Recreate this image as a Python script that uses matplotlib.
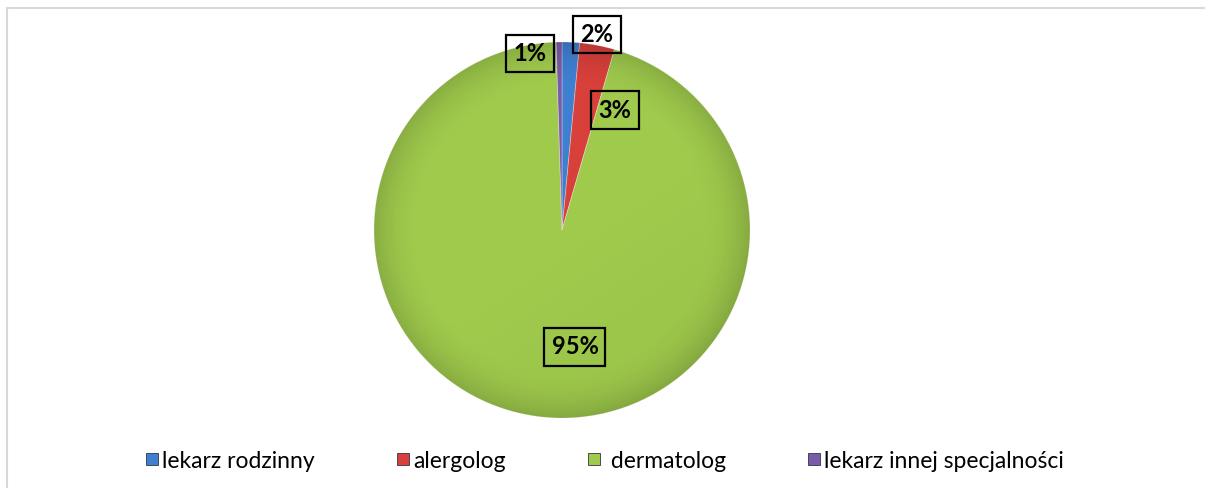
import math
import numpy as np
import matplotlib
matplotlib.use("Agg")
import matplotlib.pyplot as plt
from matplotlib.patches import Rectangle, Circle

# ---- data ----
categories = ["lekarz rodzinny", "alergolog", " dermatolog", "lekarz innej specjalności"]
values = [1.5, 3.0, 95.0, 0.5]
colors = ["#3f7fd0", "#d8403b", "#9fca4c", "#7a5ba8"]

plt.rcParams['font.family'] = ['Lato', 'DejaVu Sans']

W, H = 1205, 488
fig = plt.figure(figsize=(W / 100, H / 100), dpi=100)

# outer frame (light grey, only top/left visible in reference)
fig.patches.append(Rectangle((7 / W, -0.05), 1.1, 1 - 8 / H + 0.05, transform=fig.transFigure,
                             fill=False, ec="#d9d9d9", lw=1.5))

cx, cy, R = 562, 230, 188
ax = fig.add_axes([(cx - R) / W, (H - cy - R) / H, 2 * R / W, 2 * R / H])


def fmt(p):
    return f"{int(math.floor(p + 0.5))}%"


wedges, texts, autotexts = ax.pie(values, colors=colors, startangle=90, counterclock=False,
                                  autopct=fmt, radius=1.0,
                                  wedgeprops=dict(linewidth=0.6, edgecolor=(1, 1, 1, 0.35)))
ax.set_xlim(-1, 1)
ax.set_ylim(-1, 1)
ax.set_aspect("equal")
ax.axis("off")

# subtle edge shading for a slightly 3D look
yy, xx = np.mgrid[-1:1:400j, -1:1:400j]
rr = np.sqrt(xx ** 2 + yy ** 2)
shade = np.clip((rr - 0.75) / 0.25, 0, 1) ** 2 * 0.14
shade += np.clip((xx * 0.4 - yy * 0.6), 0, 1) * 0.04
img = np.zeros((400, 400, 4))
img[..., 3] = shade
im = ax.imshow(img, extent=(-1, 1, -1, 1), origin="lower", zorder=3)
im.set_clip_path(Circle((0, 0), 1.0, transform=ax.transData))

# label positions (in pie radius units) in category order
label_pos = [(0.186, 1.04), (0.282, 0.638), (0.069, -0.622), (-0.17, 0.94)]
for t, (px, py) in zip(autotexts, label_pos):
    t.set_position((px, py))
    t.set_fontsize(17)
    t.set_fontweight("bold")
    t.set_color("black")
    t.set_zorder(5)
    t.set_bbox(dict(boxstyle="square,pad=0.3", fc="none", ec="black", lw=1.6))

# legend
handles = [plt.Line2D([], [], marker="s", linestyle="none", markersize=9,
                      markerfacecolor=c, markeredgecolor="#33334d", markeredgewidth=0.6)
           for c in colors]
fig.legend(handles, categories, loc="center", bbox_to_anchor=(604 / W, 1 - 461 / H),
           ncol=4, frameon=False, fontsize=16.5, handlelength=0.7, handletextpad=0.1,
           columnspacing=3.5, borderpad=0)

fig.savefig("out.png", dpi=100, facecolor="white")
